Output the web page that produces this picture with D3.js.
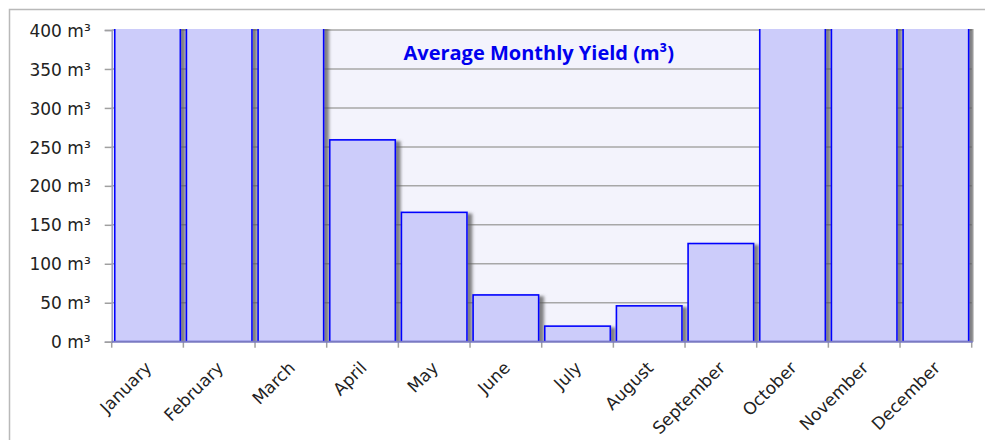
<!DOCTYPE html>
<html>
<head>
<meta charset="utf-8">
<script src="https://cdn.jsdelivr.net/npm/d3@7"></script>
<style>
  body { margin: 0; background: #ffffff; }
  svg { display: block; }
</style>
</head>
<body>
<svg id="chart" width="985" height="440"></svg>
<script>
// Monthly yield data (m³); winter months run past the 400 m³ axis ceiling
const months = ["January", "February", "March", "April", "May", "June",
                "July", "August", "September", "October", "November", "December"];
const yieldM3 = [620, 560, 480, 259, 166, 60, 20, 46, 126, 450, 580, 640];
const yTicks = [0, 50, 100, 150, 200, 250, 300, 350, 400];
const unitSuffix = " m³";
const chartTitle = "Average Monthly Yield (m³)";

const width = 985, height = 440;
const plot = { left: 111.7, right: 971.7, top: 30, bottom: 341.7 };

const svg = d3.select("#chart");
const defs = svg.append("defs");

// soft drop shadow behind each column
const shadow = defs.append("filter").attr("id", "barShadow")
  .attr("x", "-20%").attr("y", "-20%").attr("width", "140%").attr("height", "140%");
shadow.append("feDropShadow")
  .attr("dx", 4.5).attr("dy", 2).attr("stdDeviation", 1.4)
  .attr("flood-color", "#5a5a5a").attr("flood-opacity", 0.75);

defs.append("clipPath").attr("id", "plotClip")
  .append("rect")
  .attr("x", plot.left).attr("y", plot.top - 1)
  .attr("width", plot.right - plot.left + 2).attr("height", plot.bottom - plot.top + 1);

// outer chart frame
svg.append("rect")
  .attr("x", 9.5).attr("y", 9.5).attr("width", 1000).attr("height", 500)
  .attr("fill", "#ffffff").attr("stroke", "#b9b9b9").attr("stroke-width", 1.5);

const x = d3.scaleBand()
  .domain(months)
  .range([plot.left, plot.right])
  .paddingInner(0.085)
  .paddingOuter(0.0425);

const y = d3.scaleLinear()
  .domain([0, 400])
  .range([plot.bottom, plot.top]);

// plot background
svg.append("rect")
  .attr("x", plot.left).attr("y", plot.top)
  .attr("width", plot.right - plot.left).attr("height", plot.bottom - plot.top)
  .attr("fill", "#f3f3fc");

// horizontal gridlines
svg.append("g")
  .selectAll("line")
  .data(yTicks.filter(d => d > 0))
  .join("line")
  .attr("x1", plot.left).attr("x2", plot.right)
  .attr("y1", d => y(d)).attr("y2", d => y(d))
  .attr("stroke", "#a7a7a7").attr("stroke-width", 1.5);

// title inside the plot area
svg.append("text")
  .attr("x", (plot.left + plot.right) / 2 - 3)
  .attr("y", 60)
  .attr("text-anchor", "middle")
  .attr("font-family", "'Open Sans', sans-serif")
  .attr("font-weight", "bold")
  .attr("font-size", 20)
  .attr("fill", "#0000ee")
  .text(chartTitle);

// columns
svg.append("g")
  .attr("clip-path", "url(#plotClip)")
  .selectAll("rect")
  .data(months.map((m, i) => ({ month: m, value: yieldM3[i] })))
  .join("rect")
  .attr("x", d => x(d.month))
  .attr("width", x.bandwidth())
  .attr("y", d => y(d.value))
  .attr("height", d => y(0) - y(d.value))
  .attr("fill", "#ccccfa")
  .attr("stroke", "#0000ff")
  .attr("stroke-width", 1.6)
  .attr("filter", "url(#barShadow)");

// left axis
const yAxis = d3.axisLeft(y)
  .tickValues(yTicks)
  .tickSize(7)
  .tickPadding(14)
  .tickFormat(d => d + unitSuffix);

const gy = svg.append("g")
  .attr("transform", `translate(${plot.left},0)`)
  .call(yAxis);
gy.select(".domain").attr("stroke", "#9a9ab4").attr("stroke-width", 1.5);
gy.selectAll(".tick line").attr("stroke", "#a0a0a0").attr("stroke-width", 1.5);
gy.selectAll(".tick text")
  .attr("dy", "0.36em")
  .attr("font-family", "'DejaVu Sans', sans-serif")
  .attr("font-size", 17)
  .attr("fill", "#222222");

// bottom axis: ticks sit on category boundaries
const boundaries = d3.range(months.length + 1).map(i => plot.left + i * x.step());
const gx = svg.append("g");
gx.selectAll("line.tick")
  .data(boundaries)
  .join("line")
  .attr("class", "tick")
  .attr("x1", d => d).attr("x2", d => d)
  .attr("y1", plot.bottom).attr("y2", plot.bottom + 6)
  .attr("stroke", "#a0a0a0").attr("stroke-width", 1.5);
gx.append("line")
  .attr("x1", plot.left).attr("x2", plot.right + 1)
  .attr("y1", plot.bottom).attr("y2", plot.bottom)
  .attr("stroke", "#7a7ac2").attr("stroke-width", 2);

gx.selectAll("text")
  .data(months)
  .join("text")
  .attr("transform", d => `translate(${x(d) + x.bandwidth() / 2 + 1},${plot.bottom + 23}) rotate(-45)`)
  .attr("text-anchor", "end")
  .attr("dy", "0.35em")
  .attr("font-family", "'DejaVu Sans', sans-serif")
  .attr("font-size", 17)
  .attr("fill", "#222222")
  .text(d => d);
</script>
</body>
</html>
